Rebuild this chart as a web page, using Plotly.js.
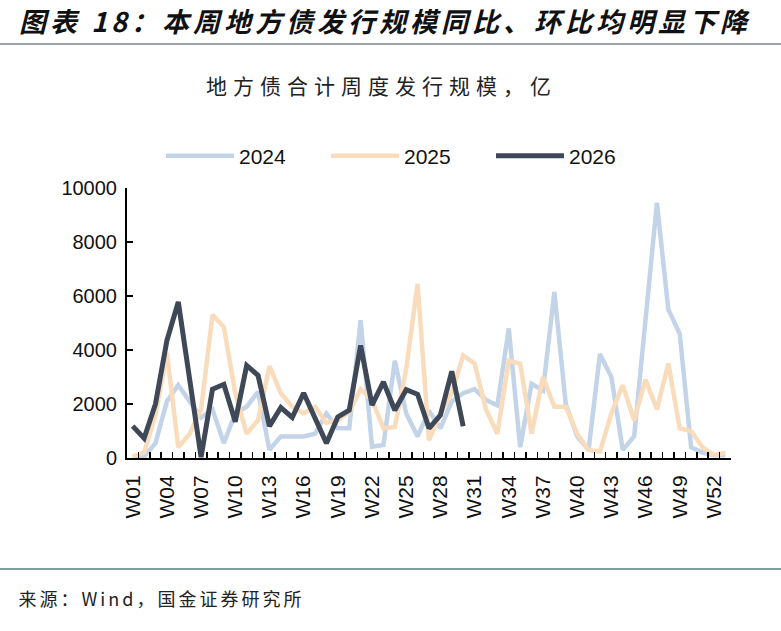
<!DOCTYPE html>
<html>
<head>
<meta charset="utf-8">
<script src="https://cdn.plot.ly/plotly-3.0.1.min.js"></script>
<style>
  html, body { margin: 0; padding: 0; background: #fff; }
  #chart { width: 781px; height: 631px; }
  .annotation[data-index="0"] text { letter-spacing: 4px; }
  .annotation[data-index="1"] text { letter-spacing: 6px; }
  .annotation[data-index="2"] text { letter-spacing: 3px; }
</style>
</head>
<body>
<div id="chart"></div>
<script>
const weeks = Array.from({length: 53}, (_, i) => 'W' + String(i + 1).padStart(2, '0'));

const v2024 = [50, 50, 550, 2100, 2700, 2100, 1500, 1800, 550, 1650,
  1900, 2450, 300, 800, 800, 800, 900, 1650, 1100, 1100,
  5100, 420, 480, 3600, 1650, 800, 1750, 1100, 2100, 2400,
  2550, 2150, 1950, 4800, 400, 2750, 2500, 6150, 2000, 800,
  300, 3850, 3000, 300, 800, 5000, 9450, 5500, 4600, 400,
  200, 100, 100];

const v2025 = [50, 200, 1600, 3900, 400, 900, 1800, 5300, 4850, 2400,
  900, 1400, 3400, 2400, 1900, 1650, 1900, 1300, 1400, 1700,
  2550, 2150, 1100, 1150, 3300, 6450, 650, 1650, 2400, 3800,
  3500, 1800, 900, 3600, 3500, 900, 3000, 1900, 1900, 900,
  300, 230, 1650, 2700, 1400, 2900, 1800, 3500, 1100, 1000,
  400, 100, 200];

const v2026 = [1180, 730, 2000, 4350, 5780, 2900, 30, 2550, 2730, 1340,
  3430, 3060, 1180, 1870, 1500, 2410, 1450, 550, 1520, 1770,
  4170, 1960, 2820, 1770, 2530, 2360, 1100, 1590, 3210, 1180];

// only every third week gets a label
const tickText = weeks.map((w, i) => (i % 3 === 0 ? w : ''));

const data = [
  {x: weeks, y: v2024, name: '2024', mode: 'lines', line: {color: '#c3d4e8', width: 4.5}},
  {x: weeks, y: v2025, name: '2025', mode: 'lines', line: {color: '#f9dcbb', width: 4.5}},
  {x: weeks.slice(0, v2026.length), y: v2026, name: '2026', mode: 'lines', line: {color: '#3f4857', width: 5}}
];

// plot area in pixels: left 127, right 731, top 188, bottom 458
const L = 127, R = 731, T = 188, B = 458;
const px = p => (p - L) / (R - L);
const py = p => (B - p) / (B - T);

const cjk = '"Noto Sans CJK SC", sans-serif';

const layout = {
  width: 781,
  height: 631,
  margin: {l: L, r: 781 - R, t: T, b: 631 - B, pad: 0},
  paper_bgcolor: '#ffffff',
  plot_bgcolor: '#ffffff',
  showlegend: true,
  hovermode: false,
  xaxis: {
    type: 'category',
    range: [-0.5, 52.5],
    tickvals: weeks,
    ticktext: tickText,
    tickson: 'boundaries',
    ticks: 'inside',
    ticklen: 6,
    tickwidth: 1.5,
    tickcolor: '#000',
    tickangle: -90,
    showline: true,
    linecolor: '#000',
    linewidth: 2,
    showgrid: false,
    zeroline: false,
    ticklabelstandoff: 7,
    tickfont: {family: 'Liberation Sans, Arial, sans-serif', size: 21, color: '#111'}
  },
  yaxis: {
    range: [0, 10000],
    dtick: 2000,
    tickformat: 'd',
    ticks: 'inside',
    ticklen: 6,
    tickwidth: 1.5,
    tickcolor: '#000',
    showline: true,
    linecolor: '#000',
    linewidth: 2,
    showgrid: false,
    zeroline: false,
    ticklabelstandoff: 4,
    tickfont: {family: 'Liberation Sans, Arial, sans-serif', size: 20, color: '#111'}
  },
  legend: {
    orientation: 'h',
    x: px(161),
    xanchor: 'left',
    y: py(156),
    yanchor: 'middle',
    itemwidth: 68,
    entrywidth: 82,
    entrywidthmode: 'pixels',
    font: {family: 'Liberation Sans, Arial, sans-serif', size: 21, color: '#111'},
    bgcolor: 'rgba(0,0,0,0)'
  },
  annotations: [
    {
      text: '<b><i>图表 18：本周地方债发行规模同比、环比均明显下降</i></b>',
      xref: 'paper', yref: 'paper',
      x: px(386), y: py(20),
      xanchor: 'center', yanchor: 'middle',
      showarrow: false,
      font: {family: cjk, size: 27, color: '#111'}
    },
    {
      text: '地方债合计周度发行规模，亿',
      xref: 'paper', yref: 'paper',
      x: px(381), y: py(85),
      xanchor: 'center', yanchor: 'middle',
      showarrow: false,
      font: {family: cjk, size: 21, color: '#222'}
    },
    {
      text: '来源：Wind，国金证券研究所',
      xref: 'paper', yref: 'paper',
      x: px(161), y: py(598),
      xanchor: 'center', yanchor: 'middle',
      showarrow: false,
      font: {family: cjk, size: 18, color: '#222'}
    }
  ],
  shapes: [
    {type: 'line', xref: 'paper', yref: 'paper', x0: px(0), x1: px(781), y0: py(44), y1: py(44),
     line: {color: '#9aa4a8', width: 2}},
    {type: 'line', xref: 'paper', yref: 'paper', x0: px(0), x1: px(781), y0: py(569), y1: py(569),
     line: {color: '#7f9c9f', width: 2}}
  ]
};

Plotly.newPlot('chart', data, layout, {displayModeBar: false, staticPlot: true});
</script>
</body>
</html>
